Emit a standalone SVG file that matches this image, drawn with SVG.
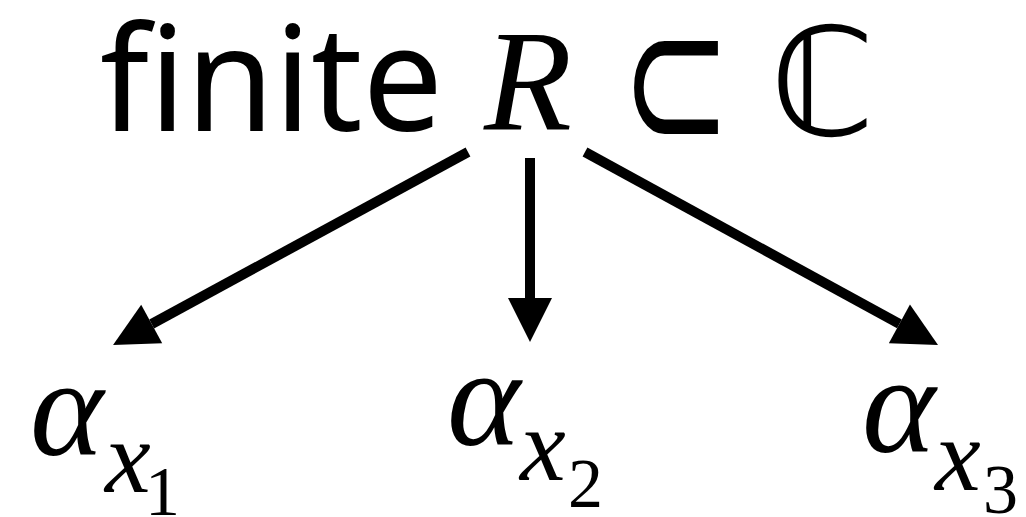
<svg xmlns="http://www.w3.org/2000/svg" width="1026" height="517" viewBox="0 0 1026 517">
<style>
.sans{font-family:"Noto Sans","DejaVu Sans",sans-serif;fill:#000}
.sym{font-family:"DejaVu Sans",sans-serif;fill:#000}
.mi{font-family:"Liberation Serif","Tinos","Times New Roman","Times","Nimbus Roman","FreeSerif","Noto Serif","DejaVu Serif",serif;font-style:italic;fill:#000}
.mn{font-family:"Liberation Serif","Tinos","Times New Roman","Times","Nimbus Roman","FreeSerif","Noto Serif","DejaVu Serif",serif;fill:#000}
.edge{stroke:#000;stroke-width:10;fill:none}
</style>
<defs>
<marker id="ah" markerUnits="userSpaceOnUse" orient="auto" refX="0" refY="0" markerWidth="50" markerHeight="50" viewBox="0 -25 50 50" overflow="visible">
<path d="M0,-22 L44,0 L0,22 Z" fill="#000"/>
</marker>
</defs>
<rect width="1026" height="517" fill="#fff"/>
<g id="top">
<text class="sans" x="100" y="131" font-size="146" textLength="343" lengthAdjust="spacingAndGlyphs">finite</text>
<text class="mi" x="484" y="129" font-size="144">R</text>
<text class="sym" x="621" y="150" font-size="200" textLength="110" lengthAdjust="spacingAndGlyphs">⊂</text>
<text class="sym" x="770" y="135" font-size="150">ℂ</text>
</g>
<g id="connectors">
<line class="edge" x1="468" y1="152" x2="151.7" y2="324" marker-end="url(#ah)"/>
<line class="edge" x1="530" y1="158" x2="530" y2="298" marker-end="url(#ah)"/>
<line class="edge" x1="585" y1="152" x2="899.4" y2="323.9" marker-end="url(#ah)"/>
</g>
<g id="alpha1">
<text class="mi" x="30" y="455" font-size="140">α</text>
<text class="mi" x="105" y="492" font-size="103">x</text>
<text class="mn" x="145" y="515" font-size="70">1</text>
</g>
<g id="alpha2">
<text class="mi" x="447" y="445" font-size="140">α</text>
<text class="mi" x="520" y="480" font-size="103">x</text>
<text class="mn" x="568" y="507" font-size="70">2</text>
</g>
<g id="alpha3">
<text class="mi" x="862" y="452" font-size="140">α</text>
<text class="mi" x="935" y="490" font-size="103">x</text>
<text class="mn" x="983" y="513" font-size="70">3</text>
</g>
</svg>
